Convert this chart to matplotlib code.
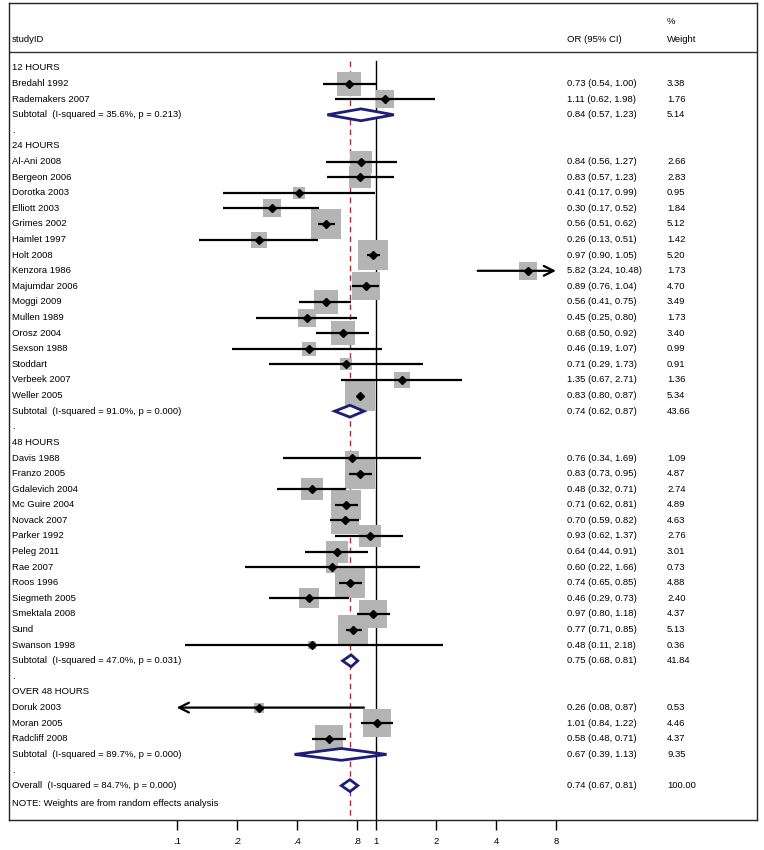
import matplotlib
matplotlib.use("Agg")
import matplotlib.pyplot as plt
import numpy as np

# ─── Data ────────────────────────────────────────────────────────────────────
groups = ["12 HOURS", "24 HOURS", "48 HOURS", "OVER 48 HOURS"]

study_group = [0, 0,
               1, 1, 1, 1, 1, 1, 1, 1, 1, 1, 1, 1, 1, 1, 1, 1,
               2, 2, 2, 2, 2, 2, 2, 2, 2, 2, 2, 2, 2,
               3, 3, 3]
study_names = ["Bredahl 1992", "Rademakers 2007",
               "Al-Ani 2008", "Bergeon 2006", "Dorotka 2003", "Elliott 2003",
               "Grimes 2002", "Hamlet 1997", "Holt 2008", "Kenzora 1986",
               "Majumdar 2006", "Moggi 2009", "Mullen 1989", "Orosz 2004",
               "Sexson 1988", "Stoddart", "Verbeek 2007", "Weller 2005",
               "Davis 1988", "Franzo 2005", "Gdalevich 2004", "Mc Guire 2004",
               "Novack 2007", "Parker 1992", "Peleg 2011", "Rae 2007",
               "Roos 1996", "Siegmeth 2005", "Smektala 2008", "Sund",
               "Swanson 1998",
               "Doruk 2003", "Moran 2005", "Radcliff 2008"]
study_or = [0.73, 1.11,
            0.84, 0.83, 0.41, 0.30, 0.56, 0.26, 0.97, 5.82, 0.89, 0.56,
            0.45, 0.68, 0.46, 0.71, 1.35, 0.83,
            0.76, 0.83, 0.48, 0.71, 0.70, 0.93, 0.64, 0.60, 0.74, 0.46,
            0.97, 0.77, 0.48,
            0.26, 1.01, 0.58]
study_lo = [0.54, 0.62,
            0.56, 0.57, 0.17, 0.17, 0.51, 0.13, 0.90, 3.24, 0.76, 0.41,
            0.25, 0.50, 0.19, 0.29, 0.67, 0.80,
            0.34, 0.73, 0.32, 0.62, 0.59, 0.62, 0.44, 0.22, 0.65, 0.29,
            0.80, 0.71, 0.11,
            0.08, 0.84, 0.48]
study_hi = [1.00, 1.98,
            1.27, 1.23, 0.99, 0.52, 0.62, 0.51, 1.05, 10.48, 1.04, 0.75,
            0.80, 0.92, 1.07, 1.73, 2.71, 0.87,
            1.69, 0.95, 0.71, 0.81, 0.82, 1.37, 0.91, 1.66, 0.85, 0.73,
            1.18, 0.85, 2.18,
            0.87, 1.22, 0.71]
study_wt = [3.38, 1.76,
            2.66, 2.83, 0.95, 1.84, 5.12, 1.42, 5.20, 1.73, 4.70, 3.49,
            1.73, 3.40, 0.99, 0.91, 1.36, 5.34,
            1.09, 4.87, 2.74, 4.89, 4.63, 2.76, 3.01, 0.73, 4.88, 2.40,
            4.37, 5.13, 0.36,
            0.53, 4.46, 4.37]

sub_isq = [35.6, 91.0, 47.0, 89.7]
sub_p = [0.213, 0.000, 0.031, 0.000]
sub_or = [0.84, 0.74, 0.75, 0.67]
sub_lo = [0.57, 0.62, 0.68, 0.39]
sub_hi = [1.23, 0.87, 0.81, 1.13]
sub_wt = [5.14, 43.66, 41.84, 9.35]

overall_isq, overall_p = 84.7, 0.000
overall_or, overall_lo, overall_hi, overall_wt = 0.74, 0.67, 0.81, 100.00

tick_vals = [0.1, 0.2, 0.4, 0.8, 1, 2, 4, 8]
tick_labels = [".1", ".2", ".4", ".8", "1", "2", "4", "8"]

# ─── Layout (pixels of the 764x850 picture) ──────────────────────────────────
W, H = 764, 850
FRAME_L, FRAME_R, FRAME_T, FRAME_B = 9, 757, 3, 820
ROW0, DY = 68, 15.6
PX_ONE, PX_DOUBLE = 376, 60          # x of OR=1, pixels per doubling
CLIP_LO, CLIP_HI = 0.1, 8            # forest range, arrows beyond it
FS = 6.8
NAVY = "#1e1e78"
BOX_GREY = "#b4b4b4"
ARROW = dict(arrowstyle="->,head_length=0.7,head_width=0.35", lw=1.6,
             color="black", shrinkA=0, shrinkB=0)

plt.rcParams["font.family"] = ["Liberation Sans", "DejaVu Sans"]

fig = plt.figure(figsize=(W / 100, H / 100), dpi=100)
ax = fig.add_axes([FRAME_L / W, 1 - FRAME_B / H,
                   (FRAME_R - FRAME_L) / W, (FRAME_B - FRAME_T) / H])
ax.set_xscale("log", base=2)
ax.set_xlim(2 ** ((FRAME_L - PX_ONE) / PX_DOUBLE), 2 ** ((FRAME_R - PX_ONE) / PX_DOUBLE))
ax.set_ylim((FRAME_B - ROW0) / DY, (FRAME_T - ROW0) / DY)

tx = ax.get_yaxis_transform()  # x in axes fraction, y in rows
col_label = 3 / (FRAME_R - FRAME_L)
col_ci = (567 - FRAME_L) / (FRAME_R - FRAME_L)
col_wt = (667 - FRAME_L) / (FRAME_R - FRAME_L)


def row_text(r, label, ci=None, wt=None):
    ax.text(col_label, r, label, transform=tx, fontsize=FS, va="center", ha="left")
    if ci is not None:
        ax.text(col_ci, r, ci, transform=tx, fontsize=FS, va="center", ha="left")
    if wt is not None:
        ax.text(col_wt, r, wt, transform=tx, fontsize=FS, va="center", ha="left")


def fmt_ci(e, lo, hi):
    return f"{e:.2f} ({lo:.2f}, {hi:.2f})"


def diamond(r, e, lo, hi):
    h = 0.38
    ax.fill([lo, e, hi, e], [r, r - h, r, r + h], facecolor="white",
            edgecolor=NAVY, linewidth=2, zorder=3)


# header
ax.text(col_label, (40 - ROW0) / DY, "studyID", transform=tx, fontsize=FS, va="center")
ax.text(col_ci, (40 - ROW0) / DY, "OR (95% CI)", transform=tx, fontsize=FS, va="center")
ax.text(col_wt, (21 - ROW0) / DY, "%", transform=tx, fontsize=FS, va="center")
ax.text(col_wt, (40 - ROW0) / DY, "Weight", transform=tx, fontsize=FS, va="center")
ax.axhline((52 - ROW0) / DY, color="#333333", linewidth=1.0)

# rows
r = 0
for g, gname in enumerate(groups):
    row_text(r, gname)
    r += 1
    for i in [k for k, sg in enumerate(study_group) if sg == g]:
        e, lo, hi, w = study_or[i], study_lo[i], study_hi[i], study_wt[i]
        row_text(r, study_names[i], fmt_ci(e, lo, hi), f"{w:.2f}")
        ax.scatter([e], [r], marker="s", s=91 * w, color=BOX_GREY,
                   linewidths=0, zorder=2)
        a, b = max(lo, CLIP_LO), min(hi, CLIP_HI)
        if lo < CLIP_LO:
            ax.annotate("", xy=(a, r), xytext=(b, r), arrowprops=ARROW, zorder=3)
        elif hi > CLIP_HI:
            ax.annotate("", xy=(b, r), xytext=(a, r), arrowprops=ARROW, zorder=3)
        else:
            ax.plot([a, b], [r, r], color="black", linewidth=1.6, zorder=3,
                    solid_capstyle="butt")
        ax.plot([e], [r], marker="D", markersize=4.2, color="black", zorder=4)
        r += 1
    row_text(r, f"Subtotal  (I-squared = {sub_isq[g]:.1f}%, p = {sub_p[g]:.3f})",
             fmt_ci(sub_or[g], sub_lo[g], sub_hi[g]), f"{sub_wt[g]:.2f}")
    diamond(r, sub_or[g], sub_lo[g], sub_hi[g])
    r += 1
    row_text(r, ".")
    r += 1

row_text(r, f"Overall  (I-squared = {overall_isq:.1f}%, p = {overall_p:.3f})",
         fmt_ci(overall_or, overall_lo, overall_hi), f"{overall_wt:.2f}")
diamond(r, overall_or, overall_lo, overall_hi)
r += 1
ax.text(col_label, r + 0.15, "NOTE: Weights are from random effects analysis",
        transform=tx, fontsize=FS, va="center")

# reference lines
y_top = -0.45
y_bot = ax.get_ylim()[0]
ax.plot([1, 1], [y_top, y_bot], color="black", linewidth=1.0, zorder=1)
ax.plot([overall_or, overall_or], [y_top, y_bot], color="#a0303a",
        linewidth=1.0, linestyle=(0, (4, 3)), zorder=1)

# axis
ax.set_xticks(tick_vals)
ax.set_xticklabels(tick_labels, fontsize=FS)
ax.minorticks_off()
ax.tick_params(axis="x", direction="out", length=7.5, width=1.0, pad=5)
ax.set_yticks([])
for s in ax.spines.values():
    s.set_linewidth(1.0)
    s.set_color("#222222")

fig.savefig("out.png", dpi=100)
